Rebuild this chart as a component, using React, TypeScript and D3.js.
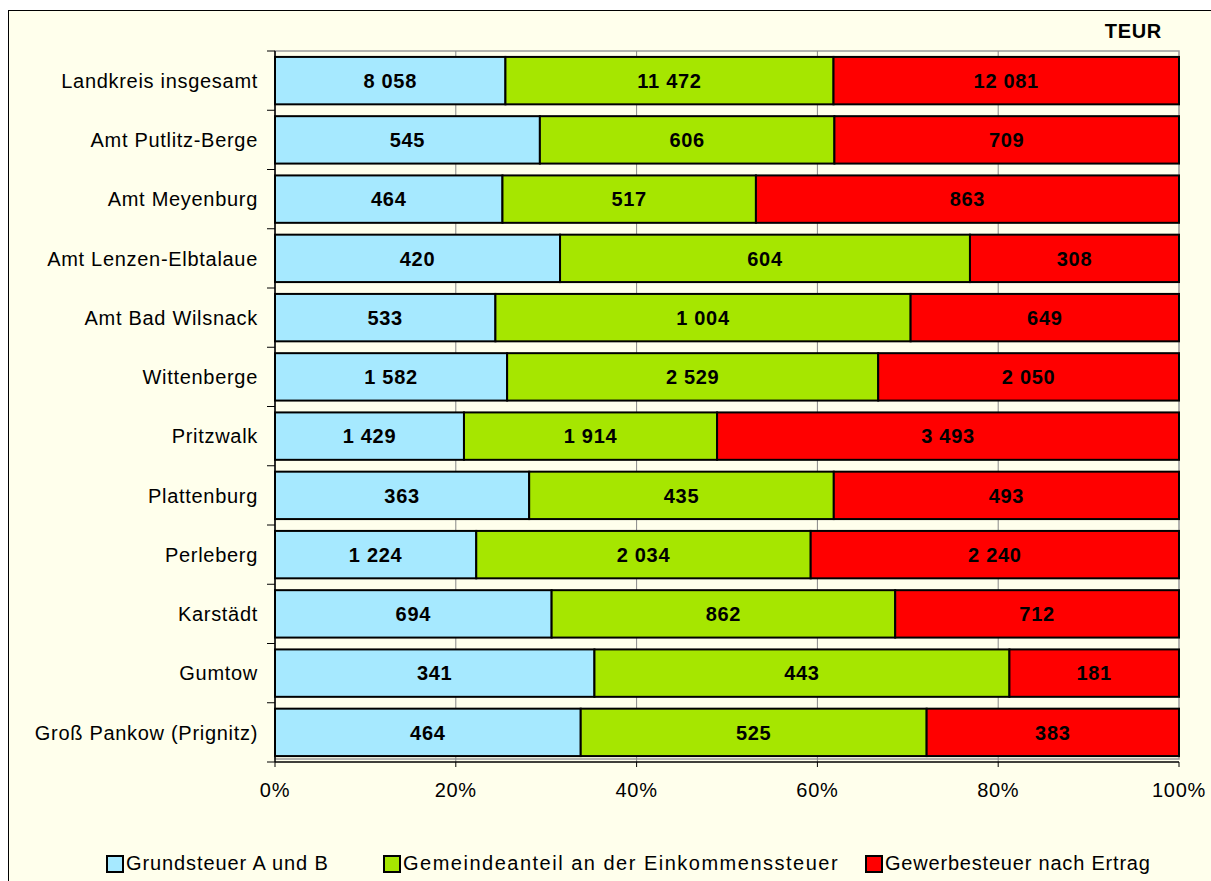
import React from "react";
import * as d3 from "d3";

const categories = [
  "Landkreis insgesamt",
  "Amt Putlitz-Berge",
  "Amt Meyenburg",
  "Amt Lenzen-Elbtalaue",
  "Amt Bad Wilsnack",
  "Wittenberge",
  "Pritzwalk",
  "Plattenburg",
  "Perleberg",
  "Karstädt",
  "Gumtow",
  "Groß Pankow (Prignitz)",
];
const grundsteuer = [8058, 545, 464, 420, 533, 1582, 1429, 363, 1224, 694, 341, 464];
const gemeindeanteil = [11472, 606, 517, 604, 1004, 2529, 1914, 435, 2034, 862, 443, 525];
const gewerbesteuer = [12081, 709, 863, 308, 649, 2050, 3493, 493, 2240, 712, 181, 383];
const seriesNames = [
  "Grundsteuer A und B",
  "Gemeindeanteil an der Einkommenssteuer",
  "Gewerbesteuer nach Ertrag",
];
const xTicks = [0, 0.2, 0.4, 0.6, 0.8, 1];
const unitLabel = "TEUR";

const colors = ["#A6E9FF", "#A6E600", "#FF0000"];
const bg = "#FFFFEC";
const font = "'Liberation Sans', Arial, sans-serif";

const fmt = (v: number) => d3.format(",")(v).replace(/,/g, " ");

export default function App() {
  const W = 1211, H = 881;
  const left = 275, right = 1179, top = 51, bottom = 762;
  const x = d3.scaleLinear().domain([0, 1]).range([left, right]);
  const y = d3
    .scaleBand<string>()
    .domain(categories)
    .range([top, bottom])
    .paddingInner(0.2)
    .paddingOuter(0.1);
  const step = y.step();
  const series = [grundsteuer, gemeindeanteil, gewerbesteuer];
  const rows = categories.map((c, i) => {
    const vals = series.map((s) => s[i]);
    const total = d3.sum(vals);
    let acc = 0;
    return vals.map((v, k) => {
      const x0 = acc / total;
      acc += v;
      return { cat: c, k, v, x0, x1: acc / total };
    });
  });
  const boundaries = d3.range(categories.length + 1).map((i) => top + i * step);
  const legendX = [107, 384, 866];
  const legendLs = ["0.9px", "1.5px", "0.8px"];
  const ls = "0.7px";

  return (
    <svg
      width={W}
      height={H}
      style={{ position: "absolute", left: 0, top: 0, background: "#fff" }}
      fontFamily={font}
    >
      <rect x={8.5} y={10.5} width={W + 10} height={H + 10} fill={bg} stroke="#000" strokeWidth={1} />
      {/* plot area border */}
      <rect x={left} y={top} width={right - left} height={759 - top} fill={bg} stroke="#999" strokeWidth={1.5} />
      {/* gridlines */}
      {xTicks.slice(1, -1).map((t) => (
        <line key={t} x1={x(t)} x2={x(t)} y1={top} y2={bottom} stroke="#888" strokeWidth={1} />
      ))}
      {/* bars */}
      {rows.map((segs) =>
        segs.map((s) => (
          <rect
            key={s.cat + s.k}
            x={x(s.x0)}
            y={y(s.cat)!}
            width={x(s.x1) - x(s.x0)}
            height={y.bandwidth()}
            fill={colors[s.k]}
            stroke="#000"
            strokeWidth={2}
          />
        ))
      )}
      {/* value labels */}
      {rows.map((segs) =>
        segs.map((s) => (
          <text
            key={"l" + s.cat + s.k}
            x={(x(s.x0) + x(s.x1)) / 2}
            y={y(s.cat)! + y.bandwidth() / 2}
            dy="0.36em"
            textAnchor="middle"
            fontWeight="bold"
            fontSize={20}
            letterSpacing={ls}
            fill="#000"
          >
            {fmt(s.v)}
          </text>
        ))
      )}
      {/* axes */}
      <line x1={left} x2={left} y1={top} y2={bottom} stroke="#000" strokeWidth={1.5} />
      <line x1={left} x2={right} y1={bottom} y2={bottom} stroke="#000" strokeWidth={1.5} />
      {boundaries.map((b, i) => (
        <line key={"bt" + i} x1={left - 8} x2={left} y1={b} y2={b} stroke="#000" strokeWidth={1} />
      ))}
      {xTicks.map((t) => (
        <g key={"xt" + t}>
          <line x1={x(t)} x2={x(t)} y1={bottom} y2={bottom + 5} stroke="#000" strokeWidth={1} />
          <text x={x(t)} y={797} textAnchor="middle" fontSize={20} letterSpacing={ls} fill="#000">
            {d3.format(".0%")(t)}
          </text>
        </g>
      ))}
      {categories.map((c) => (
        <text
          key={"c" + c}
          x={258}
          y={y(c)! + y.bandwidth() / 2}
          dy="0.36em"
          textAnchor="end"
          fontSize={20}
          letterSpacing={ls}
          fill="#000"
        >
          {c}
        </text>
      ))}
      <text x={1162} y={38} textAnchor="end" fontWeight="bold" fontSize={20} letterSpacing={ls} fill="#000">
        {unitLabel}
      </text>
      {/* legend */}
      {seriesNames.map((n, i) => (
        <g key={"lg" + i}>
          <rect x={legendX[i]} y={856} width={16} height={16} fill={colors[i]} stroke="#000" strokeWidth={2} />
          <text x={legendX[i] + 19} y={869.5} fontSize={20} letterSpacing={legendLs[i]} fill="#000">
            {n}
          </text>
        </g>
      ))}
    </svg>
  );
}
